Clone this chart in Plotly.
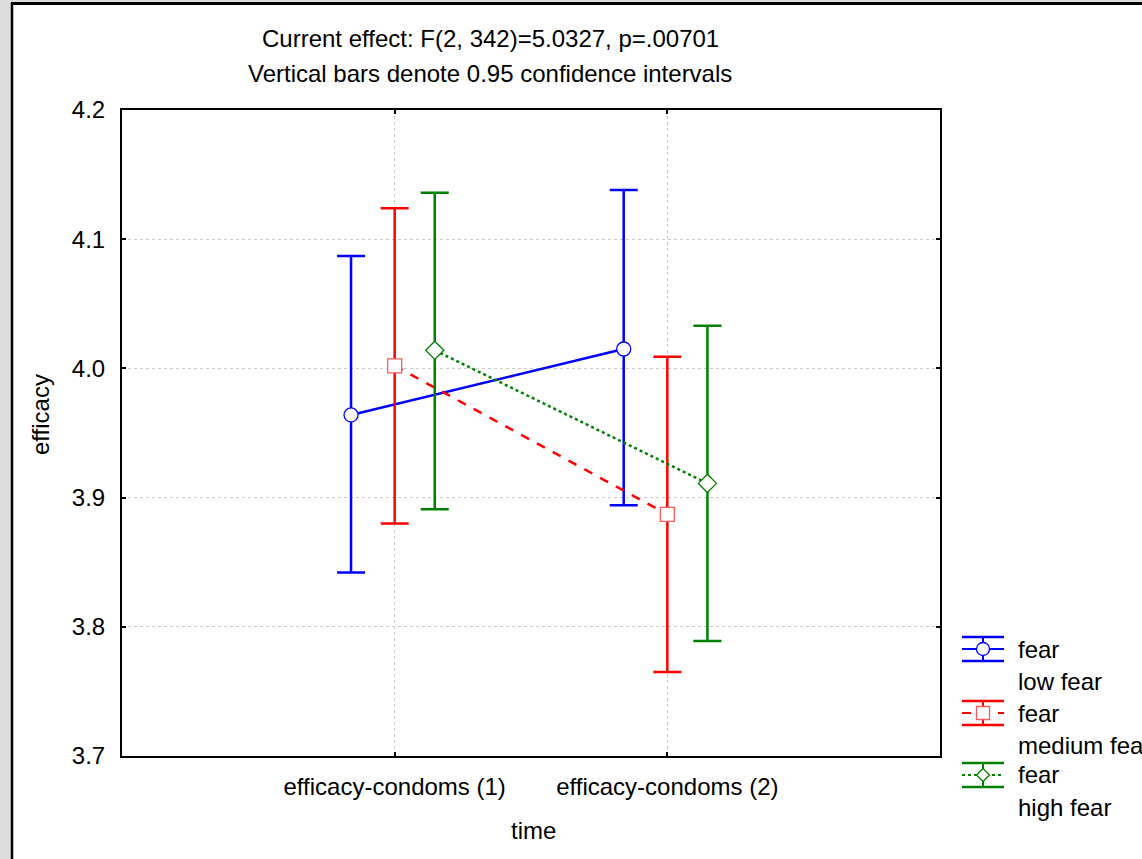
import plotly.graph_objects as go

# ---- data ----
times = ["efficacy-condoms (1)", "efficacy-condoms (2)"]
groups = ["low fear", "medium fear", "high fear"]
low_mean = [3.964, 4.015]
low_upper = [4.087, 4.138]
low_lower = [3.842, 3.894]
med_mean = [4.002, 3.887]
med_upper = [4.124, 4.009]
med_lower = [3.880, 3.765]
high_mean = [4.014, 3.911]
high_upper = [4.136, 4.033]
high_lower = [3.891, 3.789]
y_ticks = [3.7, 3.8, 3.9, 4.0, 4.1, 4.2]

W, H = 1142, 859
L, R, T, B = 122, 940, 110, 756
FONT = "Liberation Sans, Arial, sans-serif"
FS = 24

def px(x):
    return (x - L) / (R - L)

def py(y):
    return (B - y) / (B - T)

series = [
    dict(name=groups[0], mean=low_mean, up=low_upper, lo=low_lower, off=-0.16,
         color="#0000ff", dash="solid", symbol="circle", size=14, mline="#0000ff"),
    dict(name=groups[1], mean=med_mean, up=med_upper, lo=med_lower, off=0.0,
         color="#ff0000", dash="dash", symbol="square", size=14, mline="#ff5a5a"),
    dict(name=groups[2], mean=high_mean, up=high_upper, lo=high_lower, off=0.147,
         color="#008000", dash="dot", symbol="diamond", size=14, mline="#008000"),
]

fig = go.Figure()
for s in series:
    xs = [i + 1 + s["off"] for i in range(len(times))]
    fig.add_trace(go.Scatter(
        x=xs, y=s["mean"], mode="lines", name=s["name"], showlegend=False,
        line=dict(color=s["color"], width=2.5, dash=s["dash"]),
        error_y=dict(type="data", symmetric=False,
                     array=[u - m for u, m in zip(s["up"], s["mean"])],
                     arrayminus=[m - l for m, l in zip(s["mean"], s["lo"])],
                     color=s["color"], thickness=2.5, width=14),
    ))

for s in series:
    xs = [i + 1 + s["off"] for i in range(len(times))]
    fig.add_trace(go.Scatter(
        x=xs, y=s["mean"], mode="markers", showlegend=False, hoverinfo="skip",
        marker=dict(symbol=s["symbol"], size=s["size"], color="white",
                    line=dict(color=s["mline"], width=1.3)),
    ))

shapes = []
annotations = []

# outer frame: gray strip + black lines
shapes.append(dict(type="rect", xref="paper", yref="paper", x0=px(-5), x1=px(11),
                   y0=py(H + 5), y1=py(-5), fillcolor="#dcdcdc", line=dict(width=0), layer="above"))
shapes.append(dict(type="rect", xref="paper", yref="paper", x0=px(-5), x1=px(W + 5),
                   y0=py(2), y1=py(-5), fillcolor="#dcdcdc", line=dict(width=0), layer="above"))
shapes.append(dict(type="line", xref="paper", yref="paper", x0=px(12), x1=px(12),
                   y0=py(3), y1=py(H + 5), line=dict(color="black", width=2.5), layer="above"))
shapes.append(dict(type="line", xref="paper", yref="paper", x0=px(11), x1=px(W + 5),
                   y0=py(3.5), y1=py(3.5), line=dict(color="black", width=3), layer="above"))

def txt(t, x, y, anchor="center", angle=0):
    annotations.append(dict(text=t, x=px(x), y=py(y), xref="paper", yref="paper",
                            showarrow=False, xanchor=anchor, yanchor="middle", textangle=angle,
                            font=dict(family=FONT, size=FS, color="black")))

# title lines
txt("Current effect: F(2, 342)=5.0327, p=.00701", 490, 38)
txt("Vertical bars denote 0.95 confidence intervals", 490, 73)
# axis titles
txt("time", 533, 830)
txt("efficacy", 40, 415, angle=-90)

# manual legend
leg = [
    (series[0], 649, "fear", "low fear"),
    (series[1], 713, "fear", "medium fear"),
    (series[2], 775, "fear", "high fear"),
]
gx0, gx1, gc = 962, 1004, 983
for s, cy, t1, t2 in leg:
    c = s["color"]
    for yy in (cy - 12, cy + 12):
        shapes.append(dict(type="line", xref="paper", yref="paper", x0=px(gx0), x1=px(gx1),
                           y0=py(yy), y1=py(yy), line=dict(color=c, width=2.5)))
    shapes.append(dict(type="line", xref="paper", yref="paper", x0=px(gc), x1=px(gc),
                       y0=py(cy - 12), y1=py(cy + 12), line=dict(color=c, width=2)))
    shapes.append(dict(type="line", xref="paper", yref="paper", x0=px(gx0), x1=px(gx1),
                       y0=py(cy), y1=py(cy), line=dict(color=c, width=2, dash=s["dash"])))
    r = 6.5
    if s["symbol"] == "circle":
        shapes.append(dict(type="circle", xref="paper", yref="paper", x0=px(gc - r), x1=px(gc + r),
                           y0=py(cy + r), y1=py(cy - r), fillcolor="white",
                           line=dict(color=s["mline"], width=1.3)))
    elif s["symbol"] == "square":
        shapes.append(dict(type="rect", xref="paper", yref="paper", x0=px(gc - r), x1=px(gc + r),
                           y0=py(cy + r), y1=py(cy - r), fillcolor="white",
                           line=dict(color=s["mline"], width=1.3)))
    else:
        path = "M {} {} L {} {} L {} {} L {} {} Z".format(
            px(gc - r), py(cy), px(gc), py(cy - r), px(gc + r), py(cy), px(gc), py(cy + r))
        shapes.append(dict(type="path", xref="paper", yref="paper", path=path, fillcolor="white",
                           line=dict(color=s["mline"], width=1.3)))
    txt(t1, 1016, cy, anchor="left")
    txt(t2, 1016, cy + 32, anchor="left")

fig.update_layout(
    width=W, height=H,
    margin=dict(l=L, r=W - R, t=T, b=H - B, pad=0),
    paper_bgcolor="white", plot_bgcolor="white",
    font=dict(family=FONT, size=FS, color="black"),
    shapes=shapes, annotations=annotations,
    showlegend=False,
    xaxis=dict(range=[0, 3], tickmode="array", tickvals=[1, 2], ticktext=times,
               showgrid=True, gridcolor="#cccccc", griddash="3px,3px", gridwidth=1,
               showline=True, linecolor="black", linewidth=2, mirror="ticks",
               ticks="inside", ticklen=4, tickcolor="black", tickwidth=2,
               zeroline=False, ticklabelstandoff=8,
               tickfont=dict(family=FONT, size=FS, color="black")),
    yaxis=dict(range=[3.7, 4.2], tickmode="array", tickvals=y_ticks,
               ticktext=["{:.1f}".format(v) for v in y_ticks],
               showgrid=True, gridcolor="#cccccc", griddash="3px,3px", gridwidth=1,
               showline=True, linecolor="black", linewidth=2, mirror="ticks",
               ticks="inside", ticklen=4, tickcolor="black", tickwidth=2,
               zeroline=False, ticklabelstandoff=10,
               tickfont=dict(family=FONT, size=FS, color="black")),
)

fig.write_html("out.html", config={"displayModeBar": False},
               post_script="document.body.style.margin='0px';document.body.style.overflow='hidden';")
